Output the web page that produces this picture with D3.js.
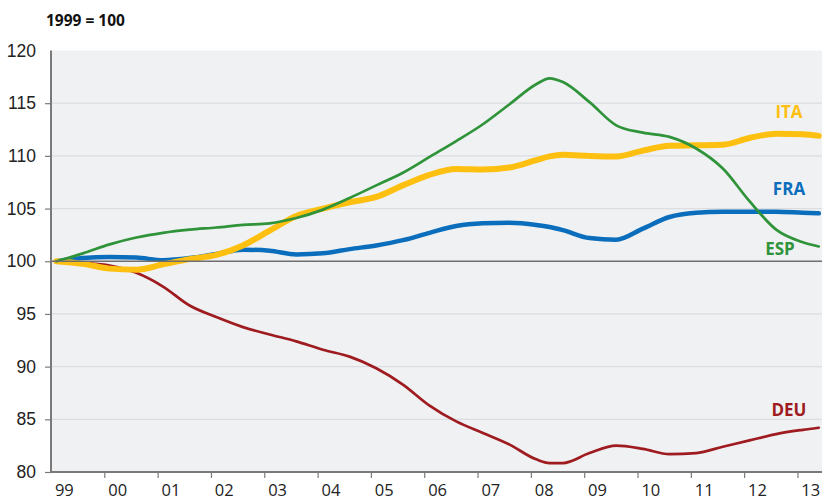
<!DOCTYPE html>
<html>
<head>
<meta charset="utf-8">
<script src="https://cdn.jsdelivr.net/npm/d3@7"></script>
<style>
  body { margin: 0; background: #fff; }
  svg { display: block; font-family: "Open Sans", "Noto Sans", sans-serif; }
</style>
</head>
<body>
<svg id="chart" width="822" height="501"></svg>
<script>
// sample dates as year fractions (roughly half-yearly readings)
const dates = [1999.1, 1999.6, 2000.1, 2000.6, 2001.1, 2001.6, 2002.1, 2002.6, 2003.1, 2003.6,
  2004.1, 2004.6, 2005.1, 2005.6, 2006.1, 2006.6, 2007.1, 2007.6, 2008.1, 2008.35, 2008.6,
  2009.1, 2009.6, 2010.1, 2010.6, 2011.1, 2011.6, 2012.1, 2012.6, 2013.1, 2013.4]

const esp = [100, 100.75, 101.6, 102.25, 102.7, 103.0, 103.2, 103.45, 103.6, 104.1,
  104.9, 106.0, 107.2, 108.4, 109.9, 111.4, 113.0, 114.9, 116.8, 117.35, 117.0,
  115.1, 112.9, 112.2, 111.8, 110.7, 108.8, 105.7, 103.0, 101.8, 101.4]

const ita = [100, 99.75, 99.3, 99.2, 99.7, 100.2, 100.6, 101.5, 102.9, 104.3,
  105.0, 105.6, 106.1, 107.2, 108.2, 108.75, 108.7, 108.9, 109.6, 109.95, 110.1,
  110.0, 109.95, 110.5, 110.95, 111.0, 111.05, 111.7, 112.1, 112.05, 111.9]

const fra = [100, 100.3, 100.4, 100.35, 100.1, 100.3, 100.7, 101.1, 101.0, 100.65,
  100.75, 101.15, 101.5, 102.0, 102.7, 103.35, 103.6, 103.65, 103.45, 103.25, 102.95,
  102.2, 102.05, 103.1, 104.2, 104.6, 104.7, 104.7, 104.7, 104.6, 104.55]

const deu = [100, 99.85, 99.6, 98.9, 97.6, 95.8, 94.7, 93.75, 93.05, 92.4,
  91.6, 90.95, 89.85, 88.3, 86.3, 84.8, 83.7, 82.6, 81.2, 80.85, 80.85,
  81.8, 82.5, 82.2, 81.7, 81.8, 82.4, 83.0, 83.6, 84.0, 84.2]

const yearTicks = [1999, 2000, 2001, 2002, 2003, 2004, 2005, 2006, 2007, 2008, 2009, 2010, 2011, 2012, 2013]
const yearLabels = ["99", "00", "01", "02", "03", "04", "05", "06", "07", "08", "09", "10", "11", "12", "13"]
const yTicks = [80, 85, 90, 95, 100, 105, 110, 115, 120]

const series = [
  { name: "DEU", values: deu, color: "#9e1b20", width: 2.7, labelAt: 85.3 },
  { name: "FRA", values: fra, color: "#0a6ebd", width: 4.5, labelAt: 106.3 },
  { name: "ITA", values: ita, color: "#fdc010", width: 6, labelAt: 113.6 },
  { name: "ESP", values: esp, color: "#2e9339", width: 2.7, labelAt: 100.6, dx: -9 }
]

const svg = d3.select("#chart")
const width = 822

const x = d3.scaleLinear().domain([1999, 2013.46]).range([51, width])
const y = d3.scaleLinear().domain([80, 120]).range([472, 50.5])

// plot background
svg.append("rect")
  .attr("x", x(1999))
  .attr("y", y(120))
  .attr("width", width - x(1999))
  .attr("height", y(80) - y(120))
  .attr("fill", "#f0f1f3")

// gridlines
svg.append("g")
  .selectAll("line")
  .data(yTicks.filter((d) => d !== 80 && d !== 100 && d !== 120))
  .enter()
  .append("line")
  .attr("x1", x(1999))
  .attr("x2", width)
  .attr("y1", (d) => y(d))
  .attr("y2", (d) => y(d))
  .attr("stroke", "#dcdde1")
  .attr("stroke-width", 1.2)

// y axis
const yAxis = d3.axisLeft(y).tickValues(yTicks).tickSize(6).tickPadding(9)
const gy = svg.append("g")
  .attr("transform", `translate(${x(1999)},0)`)
  .call(yAxis)
gy.select(".domain").remove()
gy.selectAll(".tick line").attr("stroke", "#7a7a7a").attr("stroke-width", 1.2)
gy.selectAll(".tick").filter((d) => d === 120).select("line").remove()
gy.selectAll(".tick text")
  .attr("fill", "#222")
  .style("font-size", "17.5px")

// x axis ticks at year boundaries, labels a quarter further on
const xAxis = d3.axisBottom(x).tickValues(yearTicks.slice(1)).tickSize(6).tickFormat("")
const gx = svg.append("g")
  .attr("transform", `translate(0,${y(80)})`)
  .call(xAxis)
gx.select(".domain").remove()
gx.selectAll(".tick line").attr("stroke", "#7a7a7a").attr("stroke-width", 1.2)

svg.append("g")
  .selectAll("text")
  .data(yearTicks)
  .enter()
  .append("text")
  .attr("x", (d) => x(d + 0.25))
  .attr("y", 496)
  .attr("text-anchor", "middle")
  .attr("fill", "#222")
  .style("font-size", "16.5px")
  .text((d, i) => yearLabels[i])

// series lines
const line = d3.line()
  .x((d) => x(d[0]))
  .y((d) => y(d[1]))
  .curve(d3.curveMonotoneX)

svg.append("g")
  .selectAll("path")
  .data(series)
  .enter()
  .append("path")
  .attr("d", (s) => line(dates.map((t, i) => [t, s.values[i]])))
  .attr("fill", "none")
  .attr("stroke", (s) => s.color)
  .attr("stroke-width", (s) => s.width)
  .attr("stroke-linejoin", "round")
  .attr("stroke-linecap", "round")

// 100 reference line
svg.append("line")
  .attr("x1", x(1999))
  .attr("x2", width)
  .attr("y1", y(100))
  .attr("y2", y(100))
  .attr("stroke", "#6e6e6e")
  .attr("stroke-width", 1.6)

// axis lines
svg.append("line")
  .attr("x1", x(1999))
  .attr("x2", x(1999))
  .attr("y1", y(120))
  .attr("y2", y(80) + 1)
  .attr("stroke", "#7a7a7a")
  .attr("stroke-width", 2)
svg.append("line")
  .attr("x1", x(1999))
  .attr("x2", width)
  .attr("y1", y(80))
  .attr("y2", y(80))
  .attr("stroke", "#7a7a7a")
  .attr("stroke-width", 2)

// series labels
svg.append("g")
  .selectAll("text")
  .data(series)
  .enter()
  .append("text")
  .attr("x", (s) => 789 + (s.dx || 0))
  .attr("y", (s) => y(s.labelAt))
  .attr("text-anchor", "middle")
  .attr("fill", (s) => s.color)
  .style("font-size", "17px")
  .style("font-weight", "bold")
  .text((s) => s.name)

// title
svg.append("text")
  .attr("x", 46)
  .attr("y", 26)
  .attr("fill", "#111")
  .style("font-size", "15.5px")
  .style("font-weight", "bold")
  .text("1999 = 100")
</script>
</body>
</html>
